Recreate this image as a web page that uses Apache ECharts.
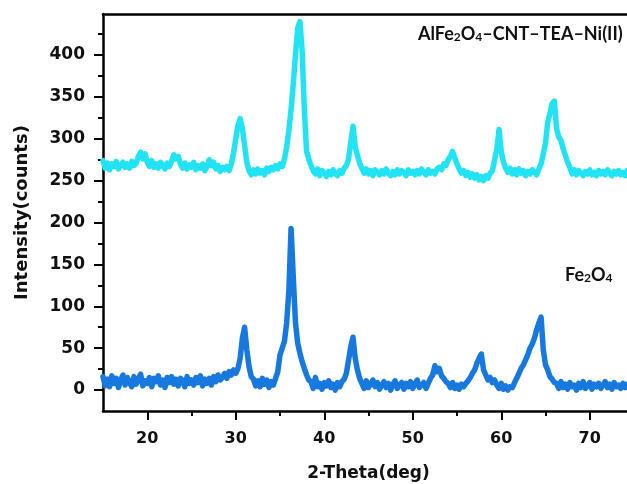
<!DOCTYPE html>
<html>
<head>
<meta charset="utf-8">
<script src="https://cdn.jsdelivr.net/npm/echarts@6/dist/echarts.min.js"></script>
<style>html,body{margin:0;padding:0;background:#fff;}#c{width:627px;height:484px;}</style>
</head>
<body>
<div id="c"></div>
<script>
// 2-theta sampling grid (deg)
const twoTheta = [
15,15.25,15.5,15.75,16,16.25,16.5,16.75,17,17.25,17.5,17.75,18,18.25,18.5,18.75,19,19.25,19.5,19.75,
20,20.25,20.5,20.75,21,21.25,21.5,21.75,22,22.25,22.5,22.75,23,23.25,23.5,23.75,24,24.25,24.5,24.75,
25,25.25,25.5,25.75,26,26.25,26.5,26.75,27,27.25,27.5,27.75,28,28.25,28.5,28.75,29,29.25,29.5,29.75,
30,30.25,30.5,30.75,31,31.25,31.5,31.75,32,32.25,32.5,32.75,33,33.25,33.5,33.75,34,34.25,34.5,34.75,
35,35.25,35.5,35.75,36,36.25,36.5,36.75,37,37.25,37.5,37.75,38,38.25,38.5,38.75,39,39.25,39.5,39.75,
40,40.25,40.5,40.75,41,41.25,41.5,41.75,42,42.25,42.5,42.75,43,43.25,43.5,43.75,44,44.25,44.5,44.75,
45,45.25,45.5,45.75,46,46.25,46.5,46.75,47,47.25,47.5,47.75,48,48.25,48.5,48.75,49,49.25,49.5,49.75,
50,50.25,50.5,50.75,51,51.25,51.5,51.75,52,52.25,52.5,52.75,53,53.25,53.5,53.75,54,54.25,54.5,54.75,
55,55.25,55.5,55.75,56,56.25,56.5,56.75,57,57.25,57.5,57.75,58,58.25,58.5,58.75,59,59.25,59.5,59.75,
60,60.25,60.5,60.75,61,61.25,61.5,61.75,62,62.25,62.5,62.75,63,63.25,63.5,63.75,64,64.25,64.5,64.75,
65,65.25,65.5,65.75,66,66.25,66.5,66.75,67,67.25,67.5,67.75,68,68.25,68.5,68.75,69,69.25,69.5,69.75,
70,70.25,70.5,70.75,71,71.25,71.5,71.75,72,72.25,72.5,72.75,73,73.25,73.5,73.75,74,74.25,74.5,74.75,
75
];

// AlFe2O4–CNT–TEA–Ni(II) intensity (counts)
const compositeCounts = [
274,265,271,263,270,267,273,264,269,272,266,270,265,273,268,271,
279,284,276,282,
272,267,274,266,
270,265,272,268,264,271,267,273,
281,276,279,
270,265,271,264,269,266,272,263,268,265,270,262,267,
275,268,272,
264,268,261,266,263,267,262,
270,283,300,316,324,312,292,272,262,
257,263,258,264,259,262,257,265,261,266,263,268,264,
270,267,276,290,310,335,365,400,432,440,405,335,285,276,268,262,
258,264,256,262,259,255,261,257,263,258,256,262,259,265,268,
276,296,315,290,280,271,265,
259,264,258,262,256,263,260,257,262,258,264,259,256,261,257,263,258,262,260,256,263,259,261,257,262,258,264,260,257,263,259,261,258,264,
266,263,270,268,275,279,285,277,270,264,
259,262,256,260,254,258,253,257,251,255,250,256,253,259,
262,275,288,311,285,272,265,
260,265,258,263,257,264,259,262,256,261,258,263,260,257,264,
270,282,295,320,330,342,345,312,302,298,288,280,272,266,
258,263,257,262,259,256,261,258,263,257,260,256,262,258,261,257,263,259,256,261,258,262,257,260,256,262,259,257,261
];

// Fe2O4 intensity (counts)
const ferriteCounts = [
16,5,13,4,17,8,14,3,12,18,6,15,9,4,16,7,13,19,5,11,8,15,4,14,10,17,6,12,3,15,9,16,7,13,5,14,11,4,16,8,12,6,15,9,17,5,13,8,14,6,16,10,18,12,15,20,14,22,
18,24,20,26,38,62,75,48,28,16,
13,5,11,4,14,7,12,3,10,6,14,
22,42,50,58,80,118,193,135,80,56,44,34,26,18,12,
10,2,15,4,8,1,9,5,11,3,7,0,9,4,10,13,20,
36,52,63,38,24,14,
8,2,11,3,7,12,4,9,1,6,10,3,8,0,7,11,2,6,9,1,8,4,10,2,7,12,3,6,9,2,8,14,18,
29,22,26,17,14,10,
8,3,9,2,6,1,7,4,8,11,15,
20,24,32,38,43,24,18,12,15,9,12,
6,2,8,1,5,0,4,3,9,14,20,
26,30,36,42,50,55,62,72,80,87,48,30,24,16,13,9,
8,2,10,3,7,1,9,4,6,0,8,3,10,2,5,9,1,7,4,8,2,6,10,3,7,1,9,4,6,2,8,3,7,1,5,4
];

const xMajorTicks = [20, 30, 40, 50, 60, 70];
const xMinorTicks = [25, 35, 45, 55, 65, 75];
const yMajorTicks = [0, 50, 100, 150, 200, 250, 300, 350, 400];
const yMinorTicks = [25, 75, 125, 175, 225, 275, 325, 375, 425];

const xTitle = '2-Theta(deg)';
const yTitle = 'Intensity(counts)';

const pairs = (ys) => twoTheta.map((x, i) => [x, ys[i]]);

const FONT = 'DejaVu Sans';
const ANNOT_FONT = 'Lato';
const axisLineStyle = { color: '#000', width: 2.5 };

const chart = echarts.init(document.getElementById('c'), null, { renderer: 'canvas' });

const xBase = { type: 'value', min: 15, max: 75, splitLine: { show: false } };
const yBase = { type: 'value', min: -25, max: 449, splitLine: { show: false } };

chart.setOption({
  animation: false,
  backgroundColor: '#fff',
  grid: { left: 103, right: -7, top: 14, bottom: 73, containLabel: false, outerBoundsMode: 'none' },
  xAxis: [
    Object.assign({}, xBase, {
      position: 'bottom',
      name: xTitle, nameLocation: 'middle', nameGap: 54,
      nameTextStyle: { fontFamily: FONT, fontWeight: 'bold', fontSize: 17, color: '#111' },
      axisLine: { show: true, onZero: false, lineStyle: axisLineStyle },
      axisTick: { show: true, inside: false, length: 9, customValues: xMajorTicks, lineStyle: { color: '#000', width: 2 } },
      axisLabel: { show: true, customValues: xMajorTicks, margin: 20, fontFamily: FONT, fontWeight: 'bold', fontSize: 16, color: '#111' }
    }),
    Object.assign({}, xBase, {
      position: 'top',
      axisLine: { show: true, onZero: false, lineStyle: axisLineStyle },
      axisTick: { show: false }, axisLabel: { show: false }
    }),
    Object.assign({}, xBase, {
      position: 'bottom',
      axisLine: { show: false, onZero: false },
      axisTick: { show: true, inside: false, length: 5, customValues: xMinorTicks, lineStyle: { color: '#000', width: 2 } },
      axisLabel: { show: false }
    })
  ],
  yAxis: [
    Object.assign({}, yBase, {
      position: 'left',
      name: yTitle, nameLocation: 'middle', nameGap: 72, nameRotate: 90,
      nameTextStyle: { fontFamily: FONT, fontWeight: 'bold', fontSize: 18, color: '#111' },
      axisLine: { show: true, onZero: false, lineStyle: axisLineStyle },
      axisTick: { show: true, inside: false, length: 9, customValues: yMajorTicks, lineStyle: { color: '#000', width: 2 } },
      axisLabel: { show: true, customValues: yMajorTicks, margin: 18, fontFamily: FONT, fontWeight: 'bold', fontSize: 17, color: '#111' }
    }),
    Object.assign({}, yBase, {
      position: 'left',
      axisLine: { show: false, onZero: false },
      axisTick: { show: true, inside: false, length: 5, customValues: yMinorTicks, lineStyle: { color: '#000', width: 2 } },
      axisLabel: { show: false }
    })
  ],
  series: [
    {
      name: 'AlFe2O4–CNT–TEA–Ni(II)', type: 'line', xAxisIndex: 0, yAxisIndex: 0,
      data: pairs(compositeCounts), showSymbol: false, symbol: 'none',
      lineStyle: { color: '#22E3F3', width: 5.5, join: 'round', cap: 'round' }, z: 3
    },
    {
      name: 'Fe2O4', type: 'line', xAxisIndex: 0, yAxisIndex: 0,
      data: pairs(ferriteCounts), showSymbol: false, symbol: 'none',
      lineStyle: { color: '#1778DE', width: 5.5, join: 'round', cap: 'round' }, z: 3
    }
  ],
  graphic: [
    {
      type: 'text', left: 418, top: 25,
      style: {
        text: 'AlFe{s|2}O{s|4}–CNT–TEA–Ni(II)',
        fontFamily: ANNOT_FONT, fontWeight: 'bold', fontSize: 18, fill: '#111',
        rich: { s: { fontFamily: ANNOT_FONT, fontWeight: 'bold', fontSize: 12, fill: '#111', verticalAlign: 'bottom', padding: [6, 0, 0, 0] } }
      }
    },
    {
      type: 'text', left: 565, top: 266,
      style: {
        text: 'Fe{s|2}O{s|4}',
        fontFamily: ANNOT_FONT, fontWeight: 'bold', fontSize: 18, fill: '#111',
        rich: { s: { fontFamily: ANNOT_FONT, fontWeight: 'bold', fontSize: 12, fill: '#111', verticalAlign: 'bottom', padding: [6, 0, 0, 0] } }
      }
    }
  ]
});
</script>
</body>
</html>
